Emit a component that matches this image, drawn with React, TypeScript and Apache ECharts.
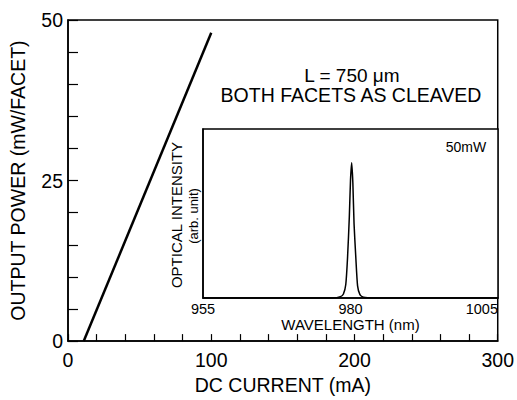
import React, { useEffect, useRef } from "react";
import * as echarts from "echarts";

const currentMA = [11, 100];
const powerMW = [0, 48];

const wavelengthNM = [955, 977.0, 978.3, 978.8, 979.2, 979.5, 979.8, 980.0, 980.2, 980.4, 980.6, 980.9, 981.2, 981.6, 982.2, 984, 1005];
const intensity = [0, 0, 0.01, 0.03, 0.1, 0.3, 0.6, 0.87, 1.0, 0.85, 0.55, 0.3, 0.09, 0.025, 0.005, 0, 0];

const mainXTicks = [0, 100, 200, 300];
const mainYTicks = [0, 25, 50];

const FONT = "Liberation Sans, Arial, Helvetica, sans-serif";

export default function App() {
  const ref = useRef<HTMLDivElement>(null);
  useEffect(() => {
    if (!ref.current) return;
    const chart = echarts.init(ref.current, null, { renderer: "svg" });
    const mainData = currentMA.map((c, i) => [c, powerMW[i]]);
    const specData = wavelengthNM.map((w, i) => [w, intensity[i]]);
    chart.setOption({
      animation: false,
      backgroundColor: "#fff",
      textStyle: { fontFamily: FONT, color: "#000" },
      grid: [
        { left: 67, top: 20, right: 14, bottom: 51, show: true, borderColor: "#000", borderWidth: 1.5, backgroundColor: "transparent" },
        { left: 203, top: 129, right: 19, bottom: 102, show: true, borderColor: "#000", borderWidth: 1.5, backgroundColor: "#fff" },
      ],
      xAxis: [
        {
          type: "value", gridIndex: 0, min: 0, max: 300, interval: 20,
          axisLine: { lineStyle: { color: "#000", width: 1.5 } },
          axisTick: { inside: true, length: 7, lineStyle: { color: "#000", width: 1.2 } },
          splitLine: { show: false },
          axisLabel: {
            color: "#000", fontSize: 19.5, fontFamily: FONT, margin: 9,
            formatter: (v: number) => (mainXTicks.includes(v) ? String(v) : ""),
          },
          name: "DC CURRENT (mA)", nameLocation: "middle", nameGap: 33,
          nameTextStyle: { color: "#000", fontSize: 19.5, fontFamily: FONT },
        },
        {
          type: "value", gridIndex: 1, min: 955, max: 1005, interval: 25,
          axisLine: { lineStyle: { color: "#000", width: 1.5 } },
          axisTick: { show: false },
          splitLine: { show: false },
          axisLabel: {
            color: "#000", fontSize: 14.5, fontFamily: FONT, margin: 3, alignMaxLabel: "right",
            formatter: (v: number) => String(v),
          },
          name: "WAVELENGTH (nm)", nameLocation: "middle", nameGap: 19,
          nameTextStyle: { color: "#000", fontSize: 15, fontFamily: FONT },
        },
      ],
      yAxis: [
        {
          type: "value", gridIndex: 0, min: 0, max: 50, interval: 5,
          axisLine: { lineStyle: { color: "#000", width: 1.5 } },
          axisTick: { inside: true, length: 10, lineStyle: { color: "#000", width: 1.2 } },
          splitLine: { show: false },
          axisLabel: {
            color: "#000", fontSize: 19.5, fontFamily: FONT, margin: 5,
            formatter: (v: number) => (mainYTicks.includes(v) ? String(v) : ""),
          },
          name: "OUTPUT POWER (mW/FACET)", nameLocation: "middle", nameGap: 40, nameRotate: 90,
          nameTextStyle: { color: "#000", fontSize: 19.5, fontFamily: FONT },
        },
        {
          type: "value", gridIndex: 1, min: 0, max: 1.25,
          axisLine: { lineStyle: { color: "#000", width: 1.5 } },
          axisTick: { show: false },
          splitLine: { show: false },
          axisLabel: { show: false },
        },
      ],
      graphic: [
        { type: "text", x: 352, y: 75, style: { text: "L = 750 \u03bcm", fontSize: 19, fontFamily: FONT, fill: "#000", align: "center", verticalAlign: "middle" } },
        { type: "text", x: 351, y: 95, style: { text: "BOTH FACETS AS CLEAVED", fontSize: 19.5, fontFamily: FONT, fill: "#000", align: "center", verticalAlign: "middle" } },
        { type: "text", x: 466, y: 147, style: { text: "50mW", fontSize: 14, fontFamily: FONT, fill: "#000", align: "center", verticalAlign: "middle" } },
        {
          type: "text", x: 176, y: 215, rotation: Math.PI / 2,
          style: { text: "OPTICAL INTENSITY", fontSize: 15, fontFamily: FONT, fill: "#000", align: "center", verticalAlign: "middle" },
        },
        {
          type: "text", x: 193, y: 216, rotation: Math.PI / 2,
          style: { text: "(arb. unit)", fontSize: 13, fontFamily: FONT, fill: "#000", align: "center", verticalAlign: "middle" },
        },
      ],
      series: [
        {
          type: "line", xAxisIndex: 0, yAxisIndex: 0, data: mainData, showSymbol: false,
          lineStyle: { color: "#000", width: 2.5 },
        },
        {
          type: "line", xAxisIndex: 1, yAxisIndex: 1, data: specData, showSymbol: false, smooth: 0.2,
          lineStyle: { color: "#000", width: 1.5 },
        },
      ],
    });
    return () => chart.dispose();
  }, []);
  return <div ref={ref} style={{ width: 517, height: 400, position: "absolute", left: 0, top: 0 }} />;
}
